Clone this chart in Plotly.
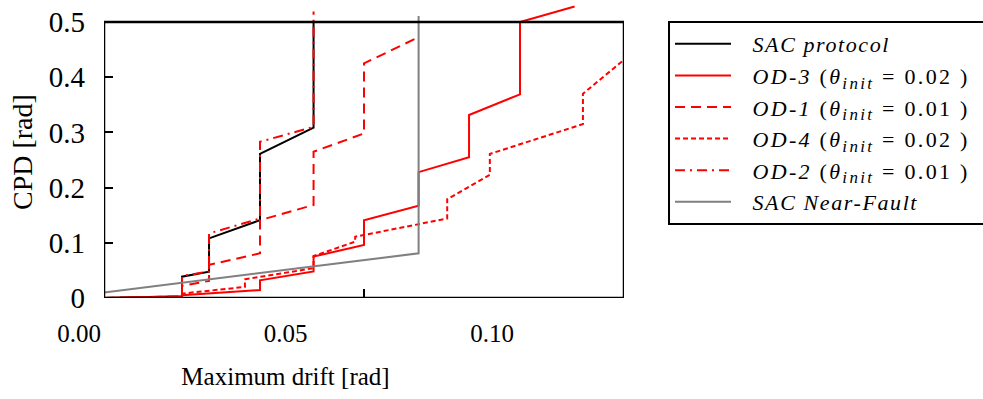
import plotly.graph_objects as go

# ---- data ----
sac_protocol_drift = [0, 0.015, 0.015, 0.0202, 0.0202, 0.030, 0.030, 0.0403, 0.0403]
sac_protocol_cpd = [0, 0.003, 0.0386, 0.0477, 0.108, 0.141, 0.261, 0.3086, 0.50]

od3_drift = [0, 0.015, 0.015, 0.030, 0.030, 0.0403, 0.0403, 0.050, 0.050, 0.0605, 0.0605,
             0.0702, 0.0702, 0.080, 0.080, 0.0905]
od3_cpd = [0, 0.002, 0.005, 0.0145, 0.032, 0.048, 0.075, 0.096, 0.141, 0.167, 0.228,
           0.255, 0.3315, 0.369, 0.50, 0.528]

od1_drift = [0, 0.015, 0.015, 0.0202, 0.0202, 0.030, 0.030, 0.0403, 0.0403, 0.050, 0.050, 0.0603]
od1_cpd = [0, 0.003, 0.022, 0.031, 0.060, 0.081, 0.141, 0.1685, 0.265, 0.298, 0.425, 0.4716]

od4_drift = [0, 0.015, 0.015, 0.0271, 0.0271, 0.0403, 0.0403, 0.0483, 0.0483, 0.066, 0.066,
             0.0742, 0.0742, 0.0921, 0.0921, 0.0998]
od4_cpd = [0, 0.002, 0.008, 0.020, 0.034, 0.054, 0.076, 0.102, 0.111, 0.144, 0.179,
           0.223, 0.261, 0.315, 0.370, 0.430]

od2_drift = [0, 0.015, 0.015, 0.0202, 0.0202, 0.030, 0.030, 0.0403, 0.0403]
od2_cpd = [0, 0.002, 0.040, 0.048, 0.117, 0.144, 0.283, 0.310, 0.519]

nf_drift = [0, 0.0605, 0.0605]
nf_cpd = [0.010, 0.081, 0.511]

x_tickvals = [0.0, 0.05, 0.10]
x_ticktext = ["0.00", "0.05", "0.10"]
y_tickvals = [0.0, 0.1, 0.2, 0.3, 0.4, 0.5]
y_ticktext = ["0", "0.1", "0.2", "0.3", "0.4", "0.5"]

x_max = 0.10
y_frame_top = 0.5

FONT = "Liberation Serif, Times New Roman, serif"
NB = "\u00a0"


def spaced(txt, px):
    return "<span style='letter-spacing:%spx'>%s</span>" % (px, txt)


def od_label(name, theta):
    return spaced("<i>" + name + "</i>" + NB + "(<i>θ<sub><span style='font-size:17px'>init</span></sub></i>"
                  + NB + "=" + NB + theta + NB + ")" + NB * 4, 2.3)


series = [
    (spaced("<i>SAC protocol</i>", 1.6), sac_protocol_drift, sac_protocol_cpd, "black", "solid"),
    (od_label("OD-3", "0.02"), od3_drift, od3_cpd, "#ff0000", "solid"),
    (od_label("OD-1", "0.01"), od1_drift, od1_cpd, "#ff0000", "10px,6px"),
    (od_label("OD-4", "0.02"), od4_drift, od4_cpd, "#ff0000", "5px,3px"),
    (od_label("OD-2", "0.01"), od2_drift, od2_cpd, "#ff0000", "10px,5px,2px,5px"),
    (spaced("<i>SAC Near-Fault</i>", 1.6), nf_drift, nf_cpd, "#808080", "solid"),
]

fig = go.Figure()
for name, xs, ys, color, dash in series:
    fig.add_trace(go.Scatter(x=xs, y=ys, mode="lines", name=NB * 3 + name,
                             line=dict(color=color, width=2, dash=dash)))

# frame (drawn at y=0.5 while the range extends a bit higher so lines can overshoot)
frame = dict(type="line", xref="x", yref="y", line=dict(color="black", width=2.5), layer="above")
fig.add_shape(x0=0, x1=0, y0=0, y1=y_frame_top, **frame)
fig.add_shape(x0=x_max, x1=x_max, y0=0, y1=y_frame_top, **frame)
fig.add_shape(x0=0, x1=x_max, y0=y_frame_top, y1=y_frame_top, **frame)
fig.add_shape(x0=0, x1=x_max, y0=0, y1=0, **frame)

L, R = 59, 359
W = 983 - L - R  # 565
main_x0 = (104 - L) / W
lab_span = 453 / W
lab_r0 = -20 / 413 * 0.1
lab_r1 = lab_r0 + 453 / 413 * 0.1

fig.update_layout(
    width=983, height=399,
    margin=dict(l=L, r=R, t=0, b=101, autoexpand=False),
    paper_bgcolor="white", plot_bgcolor="rgba(0,0,0,0)",
    font=dict(family=FONT, size=24, color="black"),
    showlegend=True,
    legend=dict(x=(668 - L) / W, xanchor="left", y=1 - 21 / 298, yanchor="top",
                bordercolor="black", borderwidth=2, bgcolor="white",
                font=dict(family=FONT, size=22, color="black"),
                itemwidth=56, tracegroupgap=0),
    xaxis=dict(
        domain=[main_x0, 1], range=[0, x_max], tickmode="array", tickvals=x_tickvals,
        ticks="inside", ticklen=9, tickwidth=2, tickcolor="black", showticklabels=False,
        showline=False, showgrid=False, zeroline=False,
    ),
    xaxis2=dict(
        domain=[0, lab_span], range=[lab_r0, lab_r1], anchor="free", position=0,
        tickmode="array", tickvals=x_tickvals, ticktext=x_ticktext,
        ticks="", showline=False, showgrid=False, zeroline=False,
        tickfont=dict(family=FONT, size=25), ticklabelstandoff=18,
        title=dict(text="Maximum drift [rad]", font=dict(family=FONT, size=25), standoff=21),
    ),
    yaxis=dict(
        range=[0, 298 / 552], tickmode="array", tickvals=y_tickvals, ticktext=y_ticktext,
        ticks="inside", ticklen=9, tickwidth=2, tickcolor="black",
        showline=False, showgrid=False, zeroline=False,
        tickfont=dict(family=FONT, size=29), ticklabelstandoff=18,
    ),
    annotations=[dict(text="CPD [rad]", textangle=-90, xref="paper", yref="paper",
                      x=(22 - L) / W, y=1 - 152 / 298, xanchor="center", yanchor="middle",
                      showarrow=False, font=dict(family=FONT, size=28))],
)
# invisible helper trace so the tick-label axis is drawn
fig.add_trace(go.Scatter(x=[0, 0.1], y=[0, 0], xaxis="x2", yaxis="y", mode="lines",
                         line=dict(width=0), showlegend=False, hoverinfo="skip"))

fig.write_html("out.html")
